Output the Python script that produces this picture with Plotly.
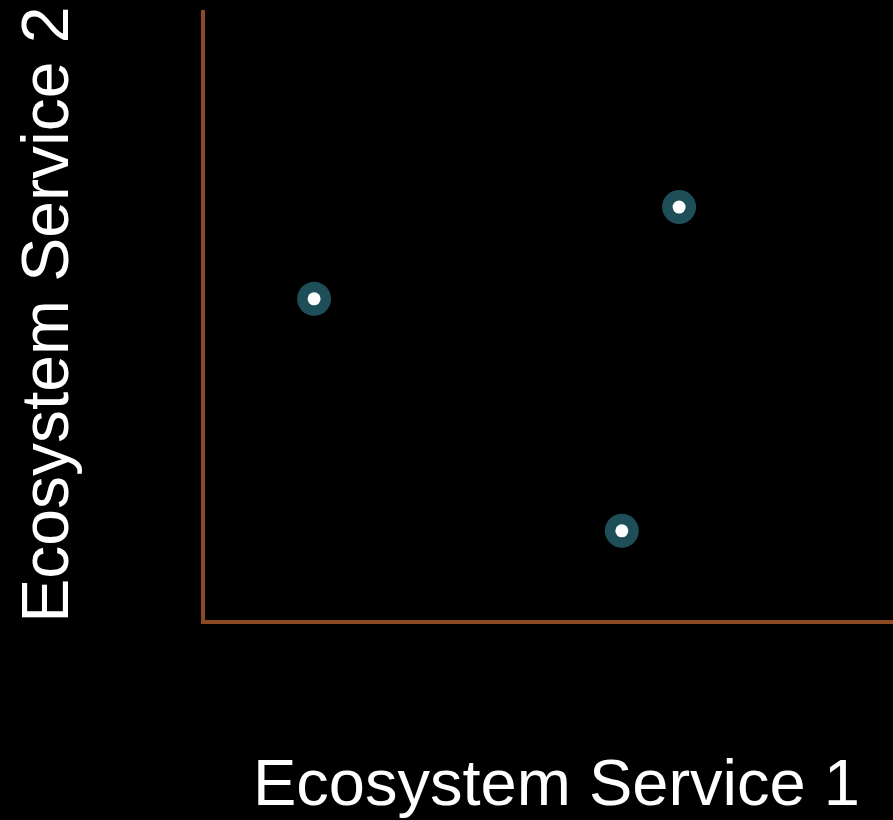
import plotly.graph_objects as go

# Data
service1 = [1.61, 6.90, 6.07]
service2 = [5.28, 6.78, 1.49]
x_title = "Ecosystem Service 1"
y_title = "Ecosystem Service 2"

axis_color = "#8B4A24"
halo_color = "#1E4E58"

fig = go.Figure()
fig.add_trace(go.Scatter(x=service1, y=service2, mode="markers",
                         marker=dict(size=34, color=halo_color, line=dict(width=0)),
                         hoverinfo="skip", showlegend=False))
fig.add_trace(go.Scatter(x=service1, y=service2, mode="markers",
                         marker=dict(size=13, color="white", line=dict(width=0)),
                         showlegend=False))

fig.add_shape(type="line", xref="paper", yref="paper", x0=0, y0=-0.003, x1=0, y1=1,
              line=dict(color=axis_color, width=4))
fig.add_shape(type="line", xref="paper", yref="paper", x0=-0.003, y0=0, x1=1, y1=0,
              line=dict(color=axis_color, width=4))

fig.add_annotation(text=x_title, xref="paper", yref="paper", x=0.513, y=-0.262,
                   xanchor="center", yanchor="middle", showarrow=False, borderpad=0,
                   font=dict(family="Liberation Sans, Arial", size=65, color="white"))
fig.add_annotation(text=y_title, xref="paper", yref="paper", x=-0.229, y=0.502,
                   xanchor="center", yanchor="middle", showarrow=False, textangle=-90,
                   borderpad=0,
                   font=dict(family="Liberation Sans, Arial", size=66, color="white"))

fig.update_xaxes(range=[0, 10], showgrid=False, zeroline=False, showticklabels=False,
                 showline=False, ticks="")
fig.update_yaxes(range=[0, 10], showgrid=False, zeroline=False, showticklabels=False,
                 showline=False, ticks="")
fig.update_layout(width=893, height=820, paper_bgcolor="black", plot_bgcolor="black",
                  margin=dict(l=203, r=0, t=10, b=198), showlegend=False)

fig.write_html("out.html", config={"displayModeBar": False},
               post_script="document.body.style.margin='0';document.body.style.background='black';document.body.style.overflow='hidden';")
